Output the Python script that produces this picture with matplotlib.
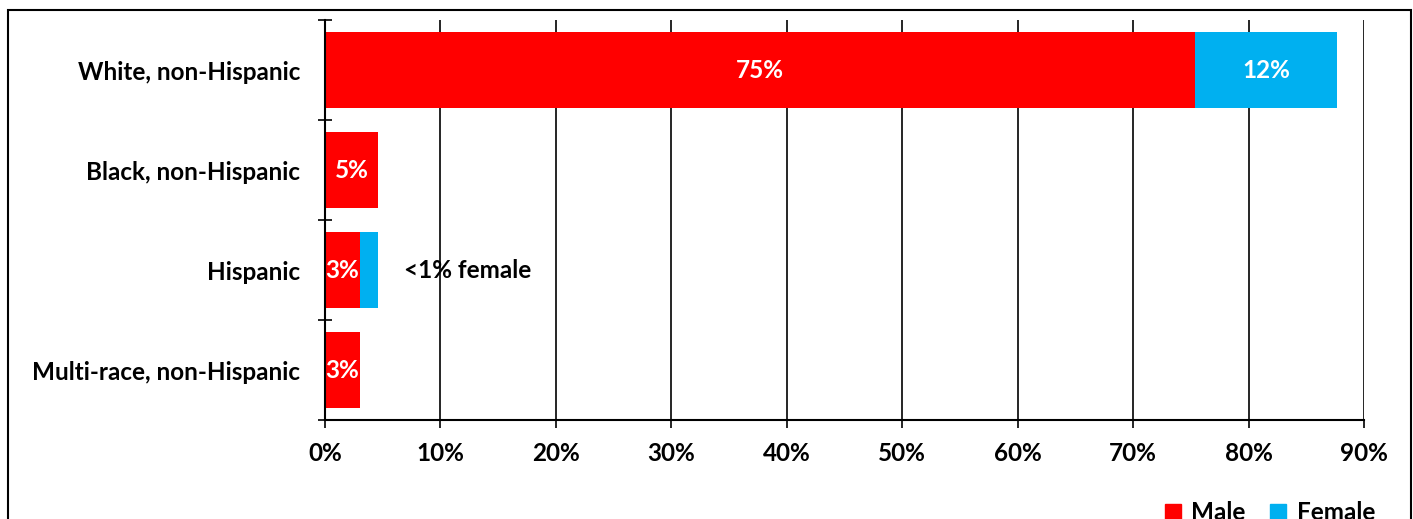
import matplotlib
matplotlib.use("Agg")
import matplotlib.pyplot as plt
from matplotlib.patches import Rectangle
import numpy as np

categories = ["White, non-Hispanic", "Black, non-Hispanic", "Hispanic", "Multi-race, non-Hispanic"]
male = [75.4, 4.6, 3.0, 3.0]
female = [12.3, 0.0, 1.6, 0.0]
male_labels = ["75%", "5%", "3%", "3%"]
female_labels = ["12%", "", "", ""]
xticks = [0, 10, 20, 30, 40, 50, 60, 70, 80, 90]
xtick_labels = [f"{v}%" for v in xticks]

RED = "#FF0000"
BLUE = "#00B0F0"
plt.rcParams['font.family'] = ['Lato', 'DejaVu Sans']
plt.rcParams['font.weight'] = 'bold'
FS = 17.5

W, H = 1413, 519
fig = plt.figure(figsize=(W / 100, H / 100), dpi=100)
ax = fig.add_axes([325 / W, (H - 420) / H, (1364 - 325) / W, 400 / H])

y = np.arange(len(categories))
h = 0.76
ax.barh(y, male, height=h, color=RED, zorder=3, label="Male")
ax.barh(y, female, left=male, height=h, color=BLUE, zorder=3, label="Female")

for i in range(len(categories)):
    if male_labels[i]:
        ax.text(male[i] / 2, y[i], male_labels[i], color="white", ha="center", va="center",
                fontsize=FS, fontweight="bold", zorder=4)
    if female_labels[i]:
        ax.text(male[i] + female[i] / 2, y[i], female_labels[i], color="white", ha="center",
                va="center", fontsize=FS, fontweight="bold", zorder=4)

ax.text(6.8, 2, "<1% female", color="black", ha="left", va="center", fontsize=FS, fontweight="bold")

ax.set_xlim(0, 90)
ax.set_ylim(len(categories) - 0.5, -0.5)
ax.set_xticks(xticks)
ax.set_xticklabels(xtick_labels, fontsize=FS, fontweight="bold")
ax.tick_params(axis="x", direction="out", length=6, width=1.2, pad=10, color="black")
ax.grid(axis="x", color="black", linewidth=1.2, zorder=1)

ax.set_yticks(np.arange(-0.5, len(categories), 1.0))
ax.set_yticklabels([])
ax.tick_params(axis="y", which="major", direction="inout", length=10, width=1.2)
ax.set_yticks(y, minor=True)
ax.set_yticklabels(categories, minor=True, fontsize=FS, fontweight="bold")
ax.tick_params(axis="y", which="minor", length=0, pad=18)

for s in ["top", "right"]:
    ax.spines[s].set_visible(False)
for s in ["left", "bottom"]:
    ax.spines[s].set_linewidth(1.5)
    ax.spines[s].set_zorder(5)

handles = [Rectangle((0, 0), 1, 1, color=RED), Rectangle((0, 0), 1, 1, color=BLUE)]
fig.legend(handles, ["Male", "Female"], loc="center", bbox_to_anchor=(1270 / W, (H - 513) / H),
           ncol=2, frameon=False, fontsize=FS, handlelength=0.65, handleheight=0.65,
           handletextpad=0.45, columnspacing=1.0, borderpad=0)

border = Rectangle((8 / W, -0.2), (1411 - 8) / W, (H - 10) / H + 0.2, transform=fig.transFigure,
                   fill=False, edgecolor="black", linewidth=1.5, clip_on=False)
fig.patches.append(border)

fig.savefig("out.png", dpi=100)
